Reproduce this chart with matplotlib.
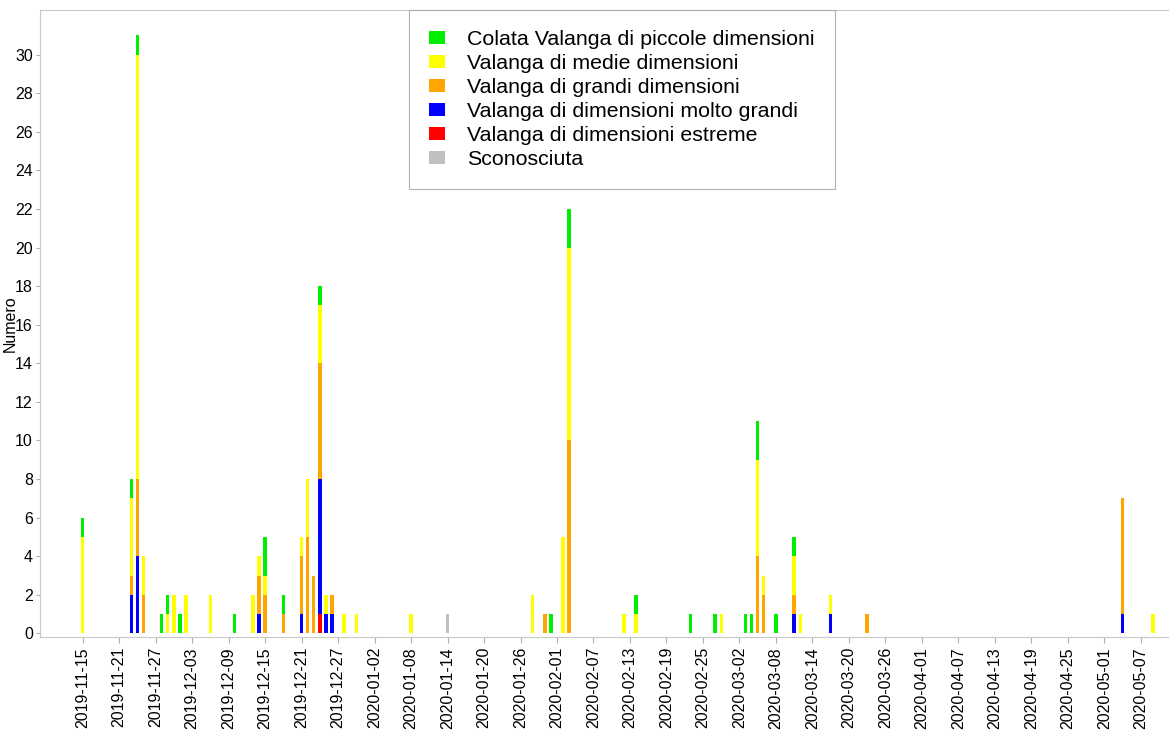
import matplotlib
matplotlib.use('Agg')
import numpy as np
import pandas as pd
import matplotlib.pyplot as plt
import matplotlib.dates as mdates
from matplotlib.patches import Patch

plt.rcParams['font.family'] = ['Liberation Sans', 'DejaVu Sans']

# ------------------------------------------------------------
# Dati: numero di valanghe per giorno e per dimensione
# ------------------------------------------------------------
date = ["2019-11-15", "2019-11-23", "2019-11-24", "2019-11-25", "2019-11-28",
        "2019-11-29", "2019-11-30", "2019-12-01", "2019-12-02", "2019-12-06",
        "2019-12-10", "2019-12-13", "2019-12-14", "2019-12-15", "2019-12-18",
        "2019-12-21", "2019-12-22", "2019-12-23", "2019-12-24", "2019-12-25",
        "2019-12-26", "2019-12-28", "2019-12-30", "2020-01-08", "2020-01-14",
        "2020-01-28", "2020-01-30", "2020-01-31", "2020-02-02", "2020-02-03",
        "2020-02-12", "2020-02-14", "2020-02-23", "2020-02-27", "2020-02-28",
        "2020-03-03", "2020-03-04", "2020-03-05", "2020-03-06", "2020-03-08",
        "2020-03-11", "2020-03-12", "2020-03-17", "2020-03-23", "2020-05-04",
        "2020-05-09"]

estreme  = [0, 0, 0, 0, 0, 0, 0, 0, 0, 0, 0, 0, 0, 0, 0, 0, 0, 0, 1, 0, 0, 0, 0,
            0, 0, 0, 0, 0, 0, 0, 0, 0, 0, 0, 0, 0, 0, 0, 0, 0, 0, 0, 0, 0, 0, 0]
molto_gr = [0, 2, 4, 0, 0, 0, 0, 0, 0, 0, 0, 0, 1, 0, 0, 1, 0, 0, 7, 1, 1, 0, 0,
            0, 0, 0, 0, 0, 0, 0, 0, 0, 0, 0, 0, 0, 0, 0, 0, 0, 1, 0, 1, 0, 1, 0]
grandi   = [0, 1, 4, 2, 0, 0, 0, 0, 0, 0, 0, 0, 2, 2, 1, 3, 5, 3, 6, 0, 1, 0, 0,
            0, 0, 0, 1, 0, 0, 10, 0, 0, 0, 0, 0, 0, 0, 4, 2, 0, 1, 0, 0, 1, 6, 0]
medie    = [5, 4, 22, 2, 0, 1, 2, 0, 2, 2, 0, 2, 1, 1, 0, 1, 3, 0, 3, 1, 0, 1, 1,
            1, 0, 2, 0, 0, 5, 10, 1, 1, 0, 0, 1, 0, 0, 5, 1, 0, 2, 1, 1, 0, 0, 1]
piccole  = [1, 1, 1, 0, 1, 1, 0, 1, 0, 0, 1, 0, 0, 2, 1, 0, 0, 0, 1, 0, 0, 0, 0,
            0, 0, 0, 0, 1, 0, 2, 0, 1, 1, 1, 0, 1, 1, 2, 0, 1, 1, 0, 0, 0, 0, 0]
sconosc  = [0, 0, 0, 0, 0, 0, 0, 0, 0, 0, 0, 0, 0, 0, 0, 0, 0, 0, 0, 0, 0, 0, 0,
            0, 1, 0, 0, 0, 0, 0, 0, 0, 0, 0, 0, 0, 0, 0, 0, 0, 0, 0, 0, 0, 0, 0]

etichette = ["Colata Valanga di piccole dimensioni",
             "Valanga di medie dimensioni",
             "Valanga di grandi dimensioni",
             "Valanga di dimensioni molto grandi",
             "Valanga di dimensioni estreme",
             "Sconosciuta"]
colori = ['#00ee00', '#ffff00', '#ffa500', '#0000ff', '#ff0000', '#c0c0c0']

# ordine di impilamento dal basso: estreme, molto grandi, grandi, medie, piccole
serie = [(sconosc, colori[5]), (estreme, colori[4]), (molto_gr, colori[3]),
         (grandi, colori[2]), (medie, colori[1]), (piccole, colori[0])]

x = mdates.date2num(pd.to_datetime(date))

# ------------------------------------------------------------
# Figura
# ------------------------------------------------------------
fig = plt.figure(figsize=(11.69, 7.30), dpi=100)
ax = fig.add_axes([0.034, 0.127, 0.966, 0.859])

base = np.zeros(len(x))
for vals, col in serie:
    v = np.array(vals, dtype=float)
    ax.bar(x, v, bottom=base, width=0.55, color=col, linewidth=0)
    base += v

t0 = mdates.date2num(pd.Timestamp("2019-11-15"))
ax.set_xlim(t0 - 7.06, t0 - 7.06 + 185.7)
ax.set_ylim(-0.2, 32.3)

ticks = pd.date_range("2019-11-15", "2020-05-07", freq="6D")
ax.set_xticks(mdates.date2num(ticks))
ax.set_xticklabels([d.strftime('%Y-%m-%d') for d in ticks], rotation=90, fontsize=11.5)
ax.set_yticks(range(0, 31, 2))
ax.tick_params(axis='y', labelsize=11.5, length=3, color='#b0b0b0', pad=2)
ax.tick_params(axis='x', length=4, color='#b0b0b0', pad=3)

for s in ['left', 'bottom', 'top']:
    ax.spines[s].set_color('#c8c8c8')
ax.spines['right'].set_visible(False)

ax.set_ylabel('Numero', fontsize=11.5)
ax.yaxis.set_label_coords(-0.0195, 0.5)

handles = [Patch(facecolor=c, edgecolor='none') for c in colori]
leg = fig.legend(handles, etichette, loc='upper left',
                 bbox_to_anchor=(409 / 1169, 1 - 10 / 730),
                 fontsize=15.4, frameon=True, fancybox=False,
                 handlelength=0.75, handleheight=0.55, handletextpad=1.0,
                 labelspacing=0.23, borderpad=0.95, borderaxespad=0)
leg.get_frame().set_edgecolor('#a0a0a0')
leg.get_frame().set_linewidth(0.8)

plt.savefig('out.png', dpi=100)
plt.close()
